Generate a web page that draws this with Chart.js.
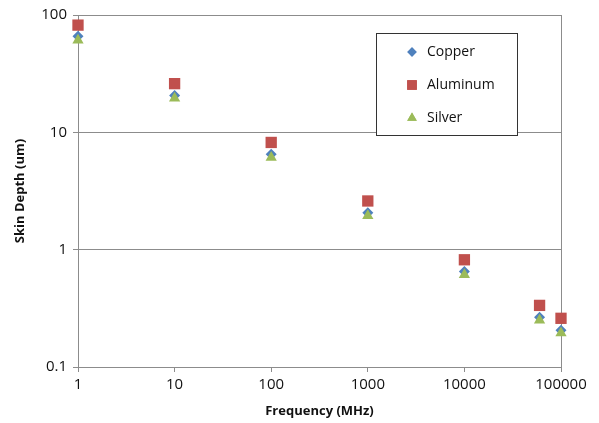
<!DOCTYPE html>
<html>
<head>
<meta charset="utf-8">
<script src="https://cdn.jsdelivr.net/npm/chart.js@4.4.0/dist/chart.umd.min.js"></script>
<style>
  html, body { margin: 0; padding: 0; background: #fff; }
  #wrap { width: 599px; height: 423px; }
</style>
</head>
<body>
<div id="wrap"><canvas id="chart"></canvas></div>
<script>
// Frequency in MHz, skin depth in um
const frequencies = [1, 10, 100, 1000, 10000, 60000, 100000];
const copper = [66, 20.6, 6.5, 2.06, 0.65, 0.266, 0.206];
const aluminum = [82, 26, 8.2, 2.6, 0.82, 0.335, 0.26];
const silver = [61, 19.5, 6.1, 1.95, 0.61, 0.25, 0.195];
const seriesNames = ['Copper', 'Aluminum', 'Silver'];
const xTicks = [1, 10, 100, 1000, 10000, 100000];
const yTicks = [0.1, 1, 10, 100];

const FONT = 'Open Sans';
const GRID = '#8c8c8c';

const toPoints = (vals) => frequencies.map((f, i) => ({ x: f, y: vals[i] }));

// right frame line + legend box drawn inside the plot, Excel style
const boxLegend = {
  id: 'boxLegend',
  beforeDatasetsDraw(chart) {
    const { ctx, chartArea: a } = chart;
    ctx.save();
    ctx.strokeStyle = GRID;
    ctx.lineWidth = 1;
    ctx.beginPath();
    ctx.moveTo(Math.round(a.right) + 0.5, a.top);
    ctx.lineTo(Math.round(a.right) + 0.5, a.bottom);
    ctx.stroke();
    ctx.restore();
  },
  afterDraw(chart) {
    const { ctx } = chart;
    ctx.save();
    ctx.fillStyle = '#fff';
    ctx.fillRect(376, 33, 141, 102);
    ctx.strokeStyle = '#333';
    ctx.lineWidth = 1;
    ctx.strokeRect(376.5, 33.5, 141, 102);
    ctx.font = '14px "' + FONT + '"';
    ctx.textBaseline = 'middle';
    chart.data.datasets.forEach((ds, i) => {
      const y = 52 + i * 33;
      ctx.fillStyle = ds.backgroundColor;
      Chart.helpers.drawPoint(ctx, {
        pointStyle: ds.pointStyle,
        radius: ds.pointRadius * 0.85,
        rotation: 0,
        borderWidth: 0
      }, 412, y);
      ctx.fill();
      ctx.fillStyle = '#111';
      ctx.fillText(ds.label, 427, y);
    });
    ctx.restore();
  }
};

new Chart(document.getElementById('chart'), {
  type: 'scatter',
  data: {
    datasets: [
      {
        label: seriesNames[0], data: toPoints(copper), order: 3, clip: false,
        pointStyle: 'rectRot', pointRadius: 5.5, backgroundColor: '#4f81bd', borderWidth: 0
      },
      {
        label: seriesNames[1], data: toPoints(aluminum), order: 2, clip: false,
        pointStyle: 'rect', pointRadius: 8, backgroundColor: '#c0504d', borderWidth: 0
      },
      {
        label: seriesNames[2], data: toPoints(silver), order: 1, clip: false,
        pointStyle: 'triangle', pointRadius: 6.5, backgroundColor: '#9bbb59', borderWidth: 0
      }
    ]
  },
  options: {
    responsive: true,
    maintainAspectRatio: false,
    animation: false,
    layout: { padding: { top: 13, right: 38, left: 0, bottom: 0 } },
    plugins: {
      legend: { display: false },
      tooltip: { enabled: false }
    },
    scales: {
      x: {
        type: 'logarithmic',
        min: 1,
        max: 100000,
        afterBuildTicks: (s) => { s.ticks = xTicks.map(v => ({ value: v })); },
        afterFit: (s) => { s.height = 56; },
        grid: { drawOnChartArea: false, color: GRID, tickLength: 5 },
        border: { color: GRID },
        ticks: {
          color: '#111',
          font: { family: FONT, size: 15 },
          padding: 4,
          maxRotation: 0,
          callback: (v) => String(v)
        },
        title: {
          display: true,
          text: 'Frequency (MHz)',
          color: '#111',
          font: { family: FONT, size: 13, weight: 'bold' },
          padding: { top: 2, bottom: 4 }
        }
      },
      y: {
        type: 'logarithmic',
        min: 0.1,
        max: 100,
        afterBuildTicks: (s) => { s.ticks = yTicks.map(v => ({ value: v })); },
        afterFit: (s) => { s.width = 78; },
        grid: { color: GRID, tickLength: 5 },
        border: { color: GRID },
        ticks: {
          color: '#111',
          font: { family: FONT, size: 15 },
          padding: 6,
          callback: (v) => String(v)
        },
        title: {
          display: true,
          text: 'Skin Depth (um)',
          color: '#111',
          font: { family: FONT, size: 13, weight: 'bold' },
          padding: { top: 12, bottom: 0 }
        }
      }
    }
  },
  plugins: [boxLegend]
});
</script>
</body>
</html>
